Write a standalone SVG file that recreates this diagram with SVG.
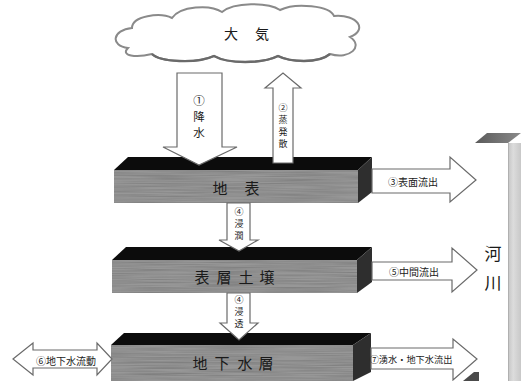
<svg xmlns="http://www.w3.org/2000/svg" width="521" height="381" viewBox="0 0 521 381">
  <style>
    .jp { font-family: "Noto Sans CJK JP", "Noto Sans", sans-serif; fill: #1a1a1a; text-anchor: middle; dominant-baseline: central; }
    .big { font-size: 15px; }
    .lbl { font-size: 10px; }
    .vlbl { font-size: 9px; }
    .arrow { fill: #ffffff; stroke: #6a6a6a; stroke-width: 1.2; stroke-linejoin: miter; }
    .front { fill: #979797; }
    .grain { filter: url(#streaks); opacity: 0.18; }
    .top { fill: #0c0c0c; }
    .side { fill: #2e2e2e; }
  </style>
  <defs>
    <!-- horizontal streak noise laid over the front face of each layer -->
    <filter id="streaks" x="0" y="0" width="1" height="1">
      <feTurbulence type="fractalNoise" baseFrequency="0.015 0.9" numOctaves="2" seed="4"/>
      <feColorMatrix type="matrix" values="0 0 0 0 0  0 0 0 0 0  0 0 0 0 0  1.6 0 0 0 -0.5"/>
    </filter>
    <linearGradient id="wall" x1="0" y1="0" x2="1" y2="0">
      <stop offset="0" stop-color="#c4c4c4"/>
      <stop offset="0.4" stop-color="#dcdcdc"/>
      <stop offset="1" stop-color="#c8c8c8"/>
    </linearGradient>
    <linearGradient id="walltop" x1="0" y1="0" x2="1" y2="0">
      <stop offset="0" stop-color="#5a5a5a"/>
      <stop offset="1" stop-color="#8a8a8a"/>
    </linearGradient>
  </defs>

  <rect width="521" height="381" fill="#ffffff"/>

  <!-- atmosphere -->
  <g id="atmosphere">
    <path d="M128,48 C110,46 112,30 132,28 C132,16 160,12 172,18 C180,6 210,4 222,12 C234,2 268,2 280,10 C296,2 330,6 334,16 C358,14 368,30 350,37 C364,46 350,60 330,54 C318,64 290,62 278,56 C262,64 228,64 214,56 C196,64 160,62 152,54 C136,58 120,56 128,48 Z" fill="#ffffff" stroke="#8a8a8a" stroke-width="2"/>
    <path d="M152,54 C160,62 196,64 214,56 C228,64 262,64 278,56 C290,62 318,64 330,54" fill="none" stroke="#6a6a6a" stroke-width="2.4"/>
    <text class="jp" x="231" y="33" font-size="14">大</text>
    <text class="jp" x="262" y="33" font-size="14">気</text>
  </g>

  <!-- river bank -->
  <g id="river">
    <polygon points="475,143 487,133 521,133 508,143" fill="url(#walltop)"/>
    <rect x="508" y="143" width="13" height="238" fill="url(#wall)"/>
    <line x1="508.5" y1="143" x2="508.5" y2="381" stroke="#b0b0b0" stroke-width="1"/>
    <polygon points="463,381 474,372 479,372 479,381" fill="#4a4a4a"/>
    <text class="jp" x="493" y="252" font-size="17">河</text>
    <text class="jp" x="493" y="281" font-size="17">川</text>
  </g>

  <!-- ground surface layer -->
  <g id="surface">
    <polygon class="top" points="114,170 128,157 372,157 358,170"/>
    <polygon class="side" points="358,170 372,157 372,192 358,203"/>
    <rect class="front" x="114" y="170" width="244" height="33"/>
    <rect class="grain" x="114" y="170" width="244" height="33"/>
    <text class="jp big" x="220" y="187">地</text>
    <text class="jp big" x="252" y="187">表</text>
  </g>

  <!-- topsoil layer -->
  <g id="topsoil">
    <polygon class="top" points="112,260 126,247 372,247 357,260"/>
    <polygon class="side" points="357,260 372,247 372,282 357,293"/>
    <rect class="front" x="112" y="260" width="245" height="33"/>
    <rect class="grain" x="112" y="260" width="245" height="33"/>
    <text class="jp big" x="202" y="276">表</text>
    <text class="jp big" x="224" y="276">層</text>
    <text class="jp big" x="246" y="276">土</text>
    <text class="jp big" x="267" y="276">壌</text>
  </g>

  <!-- groundwater layer -->
  <g id="aquifer">
    <polygon class="top" points="111,345 124,333 371,333 353,345"/>
    <polygon class="side" points="353,345 371,333 371,372 353,381"/>
    <rect class="front" x="111" y="345" width="242" height="36"/>
    <rect class="grain" x="111" y="345" width="242" height="36"/>
    <text class="jp big" x="200" y="362">地</text>
    <text class="jp big" x="222" y="362">下</text>
    <text class="jp big" x="245" y="362">水</text>
    <text class="jp big" x="266" y="362">層</text>
  </g>

  <!-- flows between the layers -->
  <g id="connectors">
    <!-- (1) precipitation -->
    <polygon class="arrow" points="177,73 222,73 222,147 237,147 199,165 163,147 177,147"/>
    <text class="jp" x="199" y="100" font-size="11.5">①</text>
    <text class="jp" x="199" y="116" font-size="11.5">降</text>
    <text class="jp" x="199" y="132" font-size="11.5">水</text>

    <!-- (2) evapotranspiration -->
    <polygon class="arrow" points="273,163 273,88 265,88 283,73 301,88 293,88 293,163"/>
    <text class="jp vlbl" x="283" y="107">②</text>
    <text class="jp vlbl" x="283" y="119">蒸</text>
    <text class="jp vlbl" x="283" y="131">発</text>
    <text class="jp vlbl" x="283" y="143">散</text>

    <!-- (3) surface runoff -->
    <polygon class="arrow" points="372,169 450,169 450,157 476,180 450,202 450,193 372,193"/>
    <text class="jp lbl" x="413" y="181">③表面流出</text>

    <!-- (4) infiltration into topsoil -->
    <polygon class="arrow" points="227,203 250,203 250,240 258,240 239,251 219,240 227,240"/>
    <text class="jp vlbl" x="239" y="211">④</text>
    <text class="jp vlbl" x="239" y="223">浸</text>
    <text class="jp vlbl" x="239" y="235">潤</text>

    <!-- (5) interflow -->
    <polygon class="arrow" points="372,262 452,262 452,248 477,270 452,292 452,280 372,280"/>
    <text class="jp lbl" x="414" y="271">⑤中間流出</text>

    <!-- (4) percolation into groundwater -->
    <polygon class="arrow" points="227,293 250,293 250,323 258,323 239,340 220,323 227,323"/>
    <text class="jp vlbl" x="239" y="299">④</text>
    <text class="jp vlbl" x="239" y="311">浸</text>
    <text class="jp vlbl" x="239" y="323">透</text>

    <!-- (6) groundwater movement -->
    <polygon class="arrow" points="13,359 33,343 33,350 97,350 97,343 112,359 97,375 97,368 33,368 33,375"/>
    <text class="jp lbl" x="66" y="360">⑥地下水流動</text>

    <!-- (7) spring water and groundwater discharge -->
    <polygon class="arrow" points="371,348 453,348 453,339 477,359 453,380 453,369 371,369"/>
    <text class="jp" x="411" y="359" font-size="9.2">⑦湧水・地下水流出</text>
  </g>
</svg>
